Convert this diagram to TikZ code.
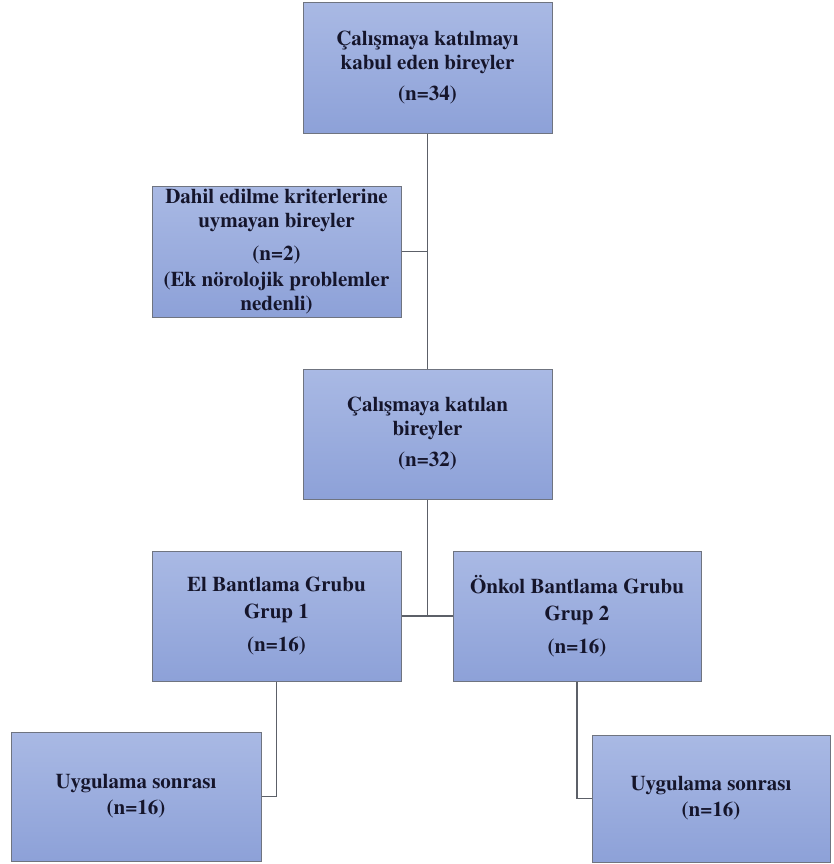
\documentclass[tikz,border=0pt]{standalone}
\usepackage{xcolor}
\usepackage{fontspec}
\setmainfont{texgyretermes-regular.otf}[BoldFont=texgyretermes-bold.otf]
\usepackage{tikz}
\definecolor{boxtop}{HTML}{A9B9E4}
\definecolor{boxbottom}{HTML}{8DA1D8}
\definecolor{boxline}{HTML}{6F7480}
\definecolor{boxtext}{HTML}{15152B}
\definecolor{linkline}{HTML}{5C6068}

\tikzset{
  flowbox/.style={draw=boxline, line width=1pt, top color=boxtop, bottom color=boxbottom,
    minimum width=249pt, minimum height=130pt, inner sep=0pt, align=center,
    text=boxtext, font=\bfseries\fontsize{21}{24}\selectfont},
  link/.style={draw=linkline, line width=1.1pt}
}

\begin{document}
\begin{tikzpicture}[x=1pt, y=-1pt]
  \fill[white] (0,0) rectangle (833,864);
  \useasboundingbox (0,0) rectangle (833,864);

  \node[flowbox] (kabul) at (427.5,68) {%
    Çalışmaya katılmayı\\kabul eden bireyler\\[7pt](n=34)};
  \node[flowbox, minimum height=131pt] (dahil) at (276.5,251.5) {%
    Dahil edilme kriterlerine\\uymayan bireyler\\[9pt](n=2)\\[2pt](Ek nörolojik problemler\\nedenli)};
  \node[flowbox] (katilan) at (427.5,434) {%
    Çalışmaya katılan\\bireyler\\[7pt](n=32)};
  \node[flowbox] (elgrup) at (276.5,616) {%
    El Bantlama Grubu\\[3pt]Grup 1\\[9pt](n=16)};
  \node[flowbox, minimum width=248pt] (onkolgrup) at (577,616) {%
    Önkol Bantlama Grubu\\[3pt]Grup 2\\[9pt](n=16)};
  \node[flowbox, minimum width=250pt, minimum height=129pt] (elsonra) at (136,796.5) {%
    Uygulama sonrası\\[2pt](n=16)};
  \node[flowbox, minimum width=238pt, minimum height=127pt] (onkolsonra) at (711,798.5) {%
    Uygulama sonrası\\[2pt](n=16)};

  \draw[link] (kabul.south) -- (katilan.north);
  \draw[link] (dahil.east) -- (dahil.east -| kabul.south);
  \draw[link] (katilan.south) -- (katilan.south |- elgrup.east);
  \draw[link] (elgrup.east) -- (onkolgrup.west);
  \draw[link] (elgrup.south) |- (elsonra.east);
  \draw[link] (onkolgrup.south) |- (onkolsonra.west);
\end{tikzpicture}
\end{document}
